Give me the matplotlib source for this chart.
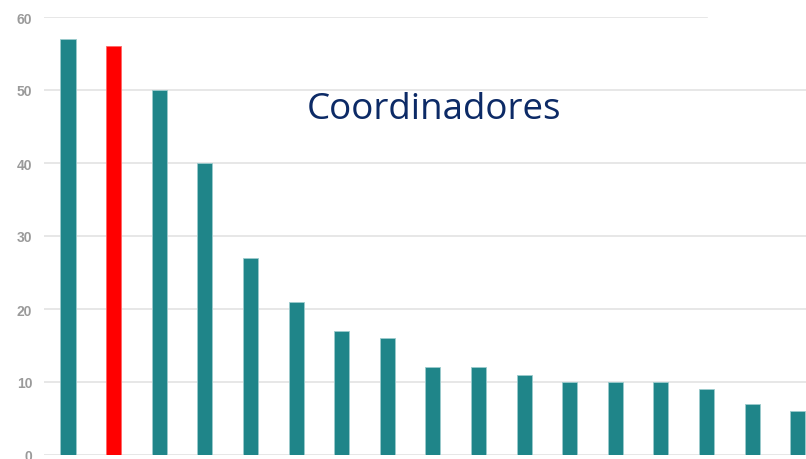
import matplotlib.pyplot as plt
import numpy as np

# values
values = [57, 56, 50, 40, 27, 21, 17, 16, 12, 12, 11, 10, 10, 10, 9, 7, 6]
highlight = 1  # the red bar
yticks = [0, 10, 20, 30, 40, 50, 60]
title = "Coordinadores"

teal = "#1F8589"
red = "#FF0000"

fig = plt.figure(figsize=[8.06, 4.60], dpi=100)
ax = fig.add_axes([44 / 806, 4 / 460, 1 - 44 / 806, 438 / 460])

x = np.arange(len(values))
colors = [red if i == highlight else teal for i in x]
ax.bar(x, values, width=0.33, color=colors, edgecolor="#9CCBCD", linewidth=0.6, zorder=3)
ax.patches[highlight].set_edgecolor("#FF6666")

ax.set_xlim(-0.526, 16.18)
ax.set_ylim(0, 60)

# light grid, the top line stops short like in the original
for t in yticks:
    xmax = 0.87 if t == yticks[-1] else 1.0
    ax.axhline(t, xmin=0, xmax=xmax, color="#E3E3E3", linewidth=1.2, zorder=1)

ax.set_yticks(yticks)
ax.set_yticklabels([str(t) for t in yticks], color="#9A9A9A", fontsize=10,
                   fontweight="bold", family="Liberation Sans")
ax.tick_params(axis="y", length=0, pad=8.5)
ax.set_xticks([])
for s in ax.spines.values():
    s.set_visible(False)

ax.text(0.512, 0.79, title, transform=ax.transAxes, ha="center", va="center",
        fontsize=26.5, color="#0C2A66", family="Open Sans", zorder=4)

plt.savefig("out.png", dpi=100)
